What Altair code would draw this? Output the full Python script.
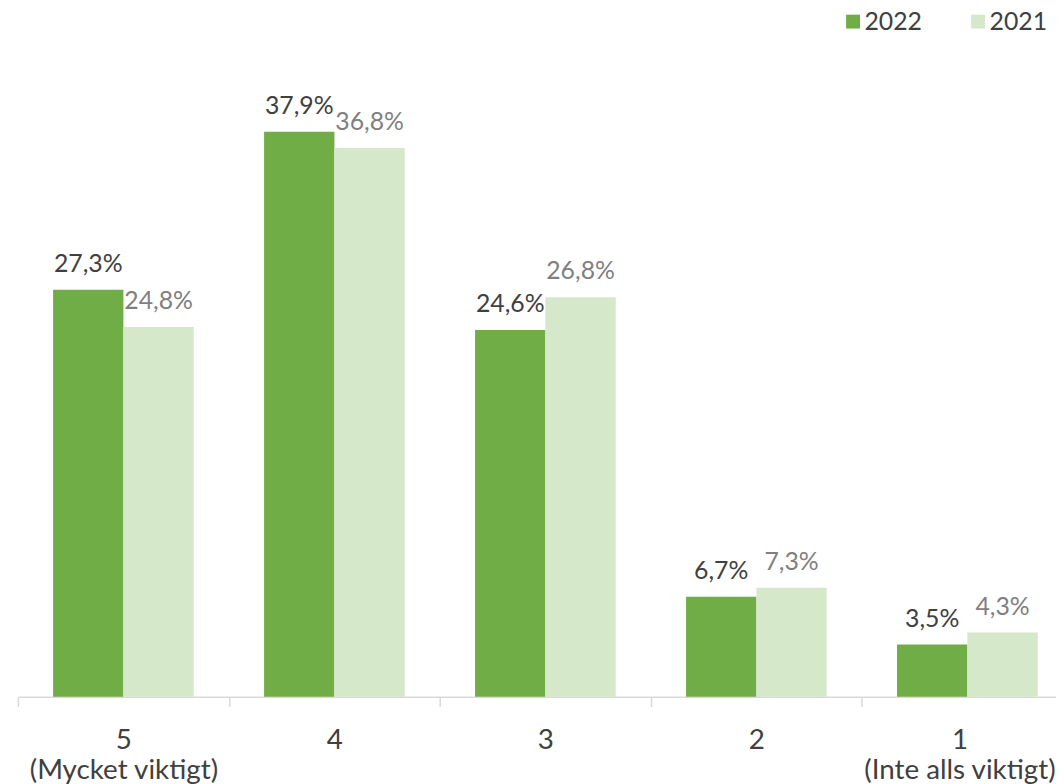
import altair as alt
import pandas as pd

categories = ["5|(Mycket viktigt)", "4", "3", "2", "1|(Inte alls viktigt)"]
values_2022 = [27.3, 37.9, 24.6, 6.7, 3.5]
values_2021 = [24.8, 36.8, 26.8, 7.3, 4.3]
years = ["2022", "2021"]
colors = ["#70AD47", "#D5E8CA"]

rows = []
for c, a, b in zip(categories, values_2022, values_2021):
    rows.append({"cat": c, "year": years[0], "value": a})
    rows.append({"cat": c, "year": years[1], "value": b})
df = pd.DataFrame(rows)

FONT = "Lato"

# the page shrinks an svg wider than the body (1048px) to fit; design for that
S = 1048 / 1056
W = 1046
H = 676

x = alt.X(
    "cat:N",
    sort=categories,
    title=None,
    scale=alt.Scale(range=[0, round(1055 / S)], paddingInner=0, paddingOuter=0),
    axis=alt.Axis(
        labelAngle=0,
        labelExpr="datum.value ? split(datum.value, '|') : ''",
        tickBand="extent",
        domainColor="#D9D9D9",
        tickColor="#D9D9D9",
        domainWidth=1.5,
        tickWidth=1.5,
        tickSize=10,
        labelFontSize=28,
        labelFont=FONT,
        labelColor="#404040",
        labelPadding=20,
        labelLineHeight=30,
        labelLimit=400,
        labelOffset={"condition": {"test": "datum.value == '1|(Inte alls viktigt)'", "value": -8}, "value": 0},
    ),
)
xo = alt.XOffset("year:N", sort=years, scale=alt.Scale(paddingInner=0, paddingOuter=0.5))
y = alt.Y("value:Q", scale=alt.Scale(domain=[0, 45]), axis=None)

base = alt.Chart(df)

bars = base.mark_bar().encode(
    x=x,
    xOffset=xo,
    y=y,
    color=alt.Color(
        "year:N",
        scale=alt.Scale(domain=years, range=colors),
        legend=alt.Legend(
            title=None,
            orient="none",
            legendX=829,
            legendY=-17,
            direction="horizontal",
            symbolType="square",
            symbolSize=196,
            symbolStrokeWidth=0,
            labelFontSize=25,
            labelFont=FONT,
            labelColor="#404040",
            columnPadding=43,
            labelOffset={"expr": "-1"},
        ),
    ),
)

labels = base.transform_calculate(
    lbl="replace(format(datum.value, '.1f'), '.', ',') + '%'"
).mark_text(dy=-18, baseline="alphabetic", fontSize=25, font=FONT).encode(
    x=x,
    xOffset=xo,
    y=y,
    text="lbl:N",
    color=alt.condition("datum.year == '2022'", alt.value("#404040"), alt.value("#7F7F7F")),
)

chart = alt.layer(bars, labels).properties(
    width=W,
    height=H,
    autosize="none",
    padding={"left": 10, "top": 15, "right": 0, "bottom": 85},
).configure_view(stroke=None)

chart.save("out.html", embed_options={"renderer": "svg", "actions": False})
